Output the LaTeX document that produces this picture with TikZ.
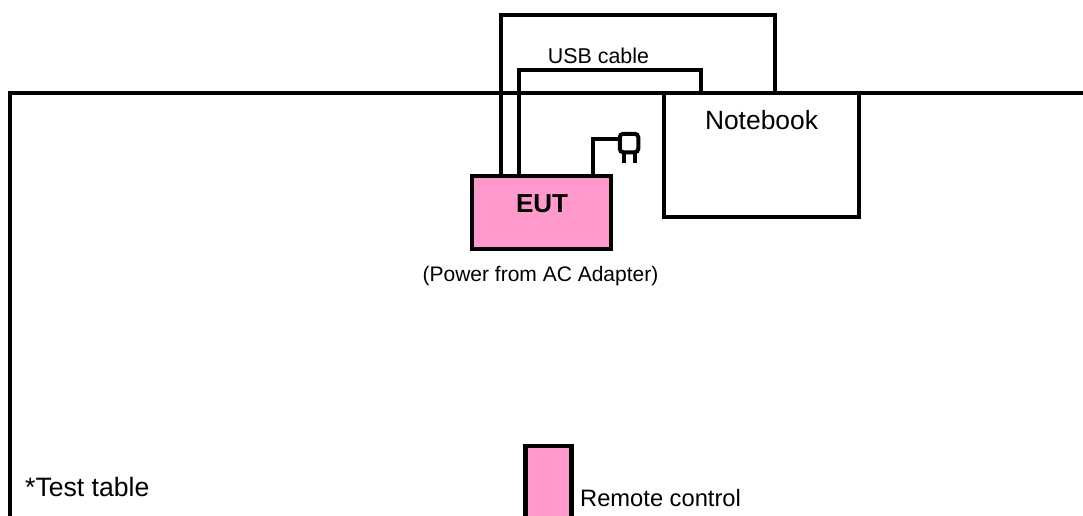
\documentclass[tikz,border=0pt]{standalone}
\usepackage{fontspec}
\setmainfont{Liberation Sans}
\definecolor{pinkfill}{RGB}{255,153,204}
\tikzset{
  x=1pt,y=-1pt,
  wire/.style={draw=black,line width=4.2pt,line join=miter},
  thinwire/.style={draw=black,line width=4pt},
  box/.style={draw=black,line width=4.2pt,rectangle,inner sep=0pt,outer sep=0pt,anchor=north west},
  lbl/.style={inner sep=0pt,anchor=base,text=black},
}
\newcommand{\fs}[1]{\fontsize{#1pt}{#1pt}\selectfont}
\begin{document}
\begin{tikzpicture}
\useasboundingbox (0,0) rectangle (1083,515);
\clip (0,0) rectangle (1083,515);
% table edge
\coordinate (tableA) at (10,530);
\coordinate (tableB) at (10,93);
\coordinate (tableC) at (1090,93);
% boxes
\node[box,fill=white,minimum width=195pt,minimum height=124pt] (notebook) at (664,93) {};
\node[box,fill=pinkfill,minimum width=139pt,minimum height=73pt] (eut) at (472,176) {};
\node[box,fill=pinkfill,minimum width=46pt,minimum height=90pt] (remote) at (525.5,446) {};
% cables
\coordinate (outerA) at (501,15);
\coordinate (outerB) at (775,15);
\coordinate (innerA) at (519,70);
\coordinate (innerB) at (701,70);
\coordinate (powerA) at (593,139);
\draw[wire] (outerA |- eut.north) -- (outerA) -- (outerB) -- (outerB |- notebook.north);
\draw[wire] (innerA |- eut.north) -- (innerA) -- (innerB) -- (innerB |- notebook.north);
% table edge on top of the cables
\draw[wire] (tableA) -- (tableB) -- (tableC);
% plug
\node[thinwire,rectangle,rounded corners=3.5pt,inner sep=0pt,outer sep=0pt,minimum width=18.5pt,minimum height=18.5pt,anchor=center] (plug) at (629,143) {};
\coordinate (pinA) at (623.5,163);
\coordinate (pinB) at (635,163);
\draw[thinwire] (pinA) -- (pinA |- plug.south);
\draw[thinwire] (pinB) -- (pinB |- plug.south);
\draw[thinwire] (powerA |- eut.north) -- (powerA) -- (powerA -| plug.west);
% labels
\node[lbl,font=\fs{21.4}] (usb) at (598.5,63.5) {USB cable};
\node[lbl,font=\fs{26.4}] (nb) at (761.5,129) {Notebook};
\node[lbl,font=\bfseries\fs{26}] (eutl) at (542,212) {EUT};
\node[lbl,font=\fs{21}] (pw) at (540.5,281) {(Power from AC Adapter)};
\node[lbl,font=\fs{26.6},anchor=base west] (tt) at (25,496.5) {*Test table};
\node[lbl,font=\fs{23.7},anchor=base west] (rc) at (580,506) {Remote control};
\end{tikzpicture}
\end{document}
